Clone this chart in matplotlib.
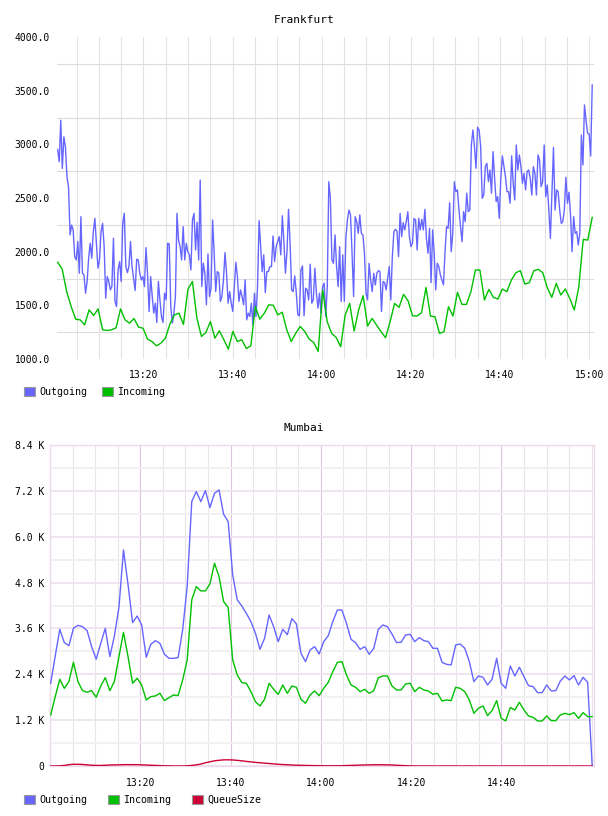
import numpy as np
import matplotlib
matplotlib.use("Agg")
import matplotlib.pyplot as plt
from matplotlib.patches import Patch
from matplotlib.ticker import FixedLocator, FuncFormatter, MultipleLocator

plt.rcParams.update({
    "font.family": "DejaVu Sans Mono",
    "font.size": 7,
})

BLUE = "#6666ff"
GREEN = "#00c000"
RED = "#cc0033"

# Frankfurt, outgoing (20 s samples) and incoming (1 min samples)
fra_out = [
    2952, 2838, 3225, 2776, 3070, 2977, 2698, 2605, 2156, 2248, 2202, 1954, 1923, 2094, 1799,
    2326, 1799, 1784, 1613, 1722, 1939, 2078, 1939, 2186, 2310, 2078, 1846, 1923, 2186, 2264,
    2047, 1567, 1768, 1722, 1644, 1675, 2125, 1536, 1489, 1830, 1908, 1722, 2264, 2357, 1861,
    1805, 1861, 2094, 1861, 1753, 1638, 1929, 1923, 1799, 1737, 1768, 1675, 2038, 1799, 1443,
    1768, 1588, 1427, 1520, 1340, 1722, 1551, 1396, 1340, 1613, 1551, 2078, 2072, 1489, 1334,
    1427, 1582, 2357, 2109, 2047, 1923, 2233, 1923, 2078, 2000, 1970, 1830, 2295, 2357,
    2016, 2273, 1923, 2667, 1675, 1892, 1799, 1505, 1979, 1582, 1660, 2295, 1985, 1628, 1814,
    1799, 1536, 1582, 1737, 1991, 1799, 1520, 1628, 1520, 1443, 1675, 1901, 1768, 1536, 1644,
    1582, 1505, 1737, 1365, 1427, 1396, 1520, 1318, 1613, 1396, 1675, 2289, 2047, 1814, 1970,
    1619, 1814, 1814, 1861, 1861, 2146, 1908, 2047, 2094, 2140, 1970, 2335, 2094, 1799, 2000,
    2394, 2078, 1644, 1628, 1774, 1619, 1411, 1402, 1830, 1867, 1402, 1660, 1644, 1551, 1883,
    1520, 1551, 1846, 1613, 1474, 1613, 1427, 1675, 1706, 1396, 1675, 2652,
    2497, 1923, 1892, 2156, 1861, 1675, 2047, 1536, 1970, 1536, 2125, 2295, 2388, 2342, 1985,
    1582, 2326, 2280, 2171, 2342, 2171, 2156, 1985, 1613, 1551, 1892, 1737, 1628, 1799, 1690,
    1799, 1824, 1814, 1443, 1722, 1712, 1644, 1753, 1861, 1551, 1954, 2186, 2208, 2193, 1954,
    2357, 2140, 2270, 2202, 2280, 2372, 2140, 2047, 2078, 2310, 2295, 2016, 2310, 2202, 2301,
    2202, 2394, 2125, 1985, 2218, 1712, 2202, 1985, 1644, 1892, 1861, 1784, 1737, 1690, 2000,
    2233, 2218, 2456, 2000, 2171,
    2652, 2559, 2575, 2389, 2233, 2093, 2373, 2280, 2544, 2373, 2389, 2994, 3134, 2979, 2777,
    3159, 3134, 2979, 2497, 2528, 2792, 2823, 2652, 2761, 2544, 2932, 2683, 2466, 2513, 2311,
    2683, 2892, 2792, 2699, 2559, 2559, 2451, 2892, 2637, 2482, 2994, 2761, 2901, 2792, 2637,
    2730, 2575, 2746, 2761, 2683, 2528, 2792, 2730, 2528, 2901, 2854, 2606, 2652, 2994, 2513,
    2621, 2389, 2124, 2538, 2972, 2389, 2575, 2559, 2389, 2264, 2280, 2389, 2693, 2451, 2553,
    2342, 2000, 2326, 2171, 2187, 2062, 2171, 3087, 2808, 3367, 3227, 3103, 3097, 2892, 3553,
]
fra_in = [
    1901, 1839, 1628, 1489, 1371, 1365, 1318, 1458, 1405, 1467, 1272, 1266, 1272, 1291, 1467,
    1365, 1334, 1377, 1297, 1287, 1185, 1163, 1123, 1148, 1195, 1328, 1411, 1427, 1322, 1650,
    1722, 1381, 1210, 1247, 1349, 1195, 1263, 1179, 1092, 1257, 1163, 1179, 1098, 1123, 1489,
    1371, 1427, 1505, 1501, 1411, 1436, 1272, 1163, 1241, 1303, 1257, 1185, 1154, 1070, 1644,
    1347, 1239, 1201, 1114, 1409, 1518, 1260, 1456, 1590, 1307, 1378, 1316, 1254, 1198, 1347,
    1518, 1481, 1602, 1543, 1403, 1400, 1431, 1667, 1400, 1394, 1239, 1254, 1487, 1400, 1621,
    1509, 1509, 1627, 1829, 1829, 1549, 1649, 1574, 1559, 1652, 1627, 1736, 1804, 1823, 1698,
    1711, 1823, 1835, 1804, 1664, 1574, 1705, 1596, 1652, 1565, 1456, 1667, 2114, 2108, 2319,
]

# Mumbai, 1 min samples
mum_out = [
    2164, 2879, 3577, 3228, 3149, 3603, 3681, 3646, 3542, 3123, 2792, 3210, 3603, 2862, 3402,
    4150, 5655, 4750, 3751, 3925, 3690, 2844, 3184, 3280, 3210, 2923, 2818, 2818, 2836, 3559,
    4700, 6919, 7181, 6919, 7207, 6762, 7137, 7224, 6588, 6396, 5001, 4347, 4187, 3995, 3777,
    3472, 3053, 3341, 3950, 3646, 3254, 3577, 3437, 3856, 3716, 2949,
    2731, 3036, 3123, 2931, 3254, 3411, 3777, 4082, 4082, 3734, 3315, 3228, 3053, 3123, 2923,
    3080, 3577, 3690, 3646, 3455, 3228, 3237, 3428, 3446, 3254, 3359, 3280, 3254, 3080, 3080,
    2713, 2661, 2644, 3167, 3193, 3080, 2731, 2208, 2356, 2321, 2120, 2269, 2818, 2164, 2033,
    2617, 2356, 2583, 2338, 2103, 2077, 1920, 1920, 2120, 1963, 1972, 2225, 2356, 2251, 2365,
    2120, 2321, 2190, 0,
]
mum_in = [
    1336, 1815, 2269, 2033, 2208, 2713, 2208, 1972, 1929, 1972, 1798, 2094, 2312, 1972, 2208,
    2862, 3498, 2862, 2164, 2295, 2120, 1728, 1815, 1833, 1902, 1711, 1789, 1859, 1841, 2251,
    2774, 4347, 4695, 4582, 4582, 4765, 5306, 4957, 4303, 4150, 2774, 2382, 2181, 2164, 1946,
    1684, 1571, 1746, 2164, 2007, 1876, 2120, 1902, 2094, 2059, 1746,
    1641, 1859, 1963, 1841, 2033, 2190, 2469, 2713, 2731, 2382, 2120, 2059, 1946, 2007, 1902,
    1972, 2312, 2356, 2356, 2094, 1990, 1990, 2147, 2164, 1946, 2059, 1990, 1963, 1876, 1902,
    1702, 1728, 1711, 2059, 2033, 1946, 1728, 1379, 1510, 1571, 1318, 1449, 1711, 1248, 1179,
    1528, 1466, 1667, 1466, 1309, 1274, 1179, 1179, 1309, 1187, 1187, 1336, 1379, 1344, 1397,
    1248, 1397, 1292, 1292,
]
mum_queue = [
    0, 0, 5, 15, 35, 45, 45, 40, 30, 20, 15, 15, 20, 25, 30, 30, 35, 35, 35, 35,
    30, 25, 20, 15, 10, 5, 5, 0, 0, 0, 5, 15, 30, 50, 85, 110, 135, 150, 160, 162,
    158, 148, 135, 120, 108, 95, 85, 75, 65, 55, 45, 38, 32, 26, 22, 18, 15, 12, 10, 8,
    6, 5, 5, 6, 8, 12, 16, 20, 24, 28, 30, 32, 33, 32, 30, 26, 20, 14, 8, 4,
    2, 0, 0, 0, 0, 0, 0, 0, 0, 0, 0, 0, 0, 0, 0, 0, 0, 0, 0, 0,
    0, 0, 0, 0, 0, 0, 0, 0, 0, 0, 0, 0, 0, 0, 0, 0, 0, 0, 0, 0,
]

# minutes after 13:00
fra_t_out = np.linspace(0.75, 120.7, len(fra_out))
fra_t_in = np.linspace(0.75, 120.7, len(fra_in))
mum_t = np.linspace(0.15, 120.1, len(mum_out))


def hhmm(m, pos=None):
    m = int(round(m))
    return f"{13 + m // 60}:{m % 60:02d}"


fig = plt.figure(figsize=(6.08, 8.16), dpi=100)
W, H = 608, 816
ax1 = fig.add_axes([57 / W, 1 - 359 / H, (594 - 57) / W, (359 - 37) / H])
ax2 = fig.add_axes([50 / W, 1 - 766 / H, (594 - 50) / W, (766 - 445) / H])

# --- Frankfurt ---
ax1.plot(fra_t_out, fra_out, color=BLUE, lw=1.0, zorder=3)
ax1.plot(fra_t_in, fra_in, color=GREEN, lw=1.0, zorder=4)
ax1.set_xlim(0.6, 121.1)
ax1.set_ylim(1000, 4000)
ax1.set_yticks(np.arange(1000, 4001, 500))
ax1.yaxis.set_major_formatter(FuncFormatter(lambda v, p: f"{v:.1f}"))
ax1.yaxis.set_minor_locator(FixedLocator(np.arange(1250, 4000, 500)))
ax1.set_xticks(np.arange(20, 121, 20))
ax1.xaxis.set_major_formatter(FuncFormatter(hhmm))
ax1.xaxis.set_minor_locator(MultipleLocator(5))
ax1.grid(True, which="both", axis="x", color="#e3e3e3", lw=0.8)
ax1.grid(True, which="minor", axis="y", color="#dcdcdc", lw=0.8)
ax1.set_axisbelow(True)
for s in ax1.spines.values():
    s.set_visible(False)
ax1.tick_params(which="both", length=0)
ax1.tick_params(axis="y", pad=5)
ax1.tick_params(axis="x", pad=8)
fig.text(0.5, 1 - 20 / H, "Frankfurt", ha="center", va="center", fontsize=8)

# --- Mumbai ---
ax2.plot(mum_t, mum_out, color=BLUE, lw=1.0, zorder=3)
ax2.plot(mum_t, mum_in, color=GREEN, lw=1.0, zorder=4)
ax2.plot(mum_t, mum_queue, color=RED, lw=1.0, zorder=5)
ax2.set_xlim(0, 120.5)
ax2.set_ylim(0, 8400)
ax2.set_yticks(np.arange(0, 8401, 1200))
ax2.yaxis.set_major_formatter(
    FuncFormatter(lambda v, p: "0" if v == 0 else f"{v / 1000:.1f} K"))
ax2.yaxis.set_minor_locator(FixedLocator(np.arange(600, 8400, 1200)))
ax2.set_xticks(np.arange(20, 101, 20))
ax2.xaxis.set_major_formatter(FuncFormatter(hhmm))
ax2.xaxis.set_minor_locator(MultipleLocator(5))
ax2.grid(True, which="major", axis="x", color="#dcc6dc", lw=0.8)
ax2.grid(True, which="minor", axis="x", color="#e6e6e6", lw=0.8)
ax2.grid(True, which="major", axis="y", color="#f0e2f0", lw=1.3)
ax2.grid(True, which="minor", axis="y", color="#f0f0f0", lw=1.3)
ax2.set_axisbelow(True)
for s in ax2.spines.values():
    s.set_color("#ecdaec")
    s.set_linewidth(1.0)
ax2.tick_params(which="both", length=0)
ax2.tick_params(axis="y", pad=4)
ax2.tick_params(axis="x", pad=9)
fig.text(0.5, 1 - 428 / H, "Mumbai", ha="center", va="center", fontsize=8)


def legend(handles, y, spacing):
    fig.legend(handles=handles, loc="center left",
               bbox_to_anchor=(24 / W, 1 - y / H), ncol=len(handles),
               frameon=False, borderpad=0, borderaxespad=0,
               handlelength=1.05, handleheight=1.0, handletextpad=0.45,
               columnspacing=spacing, fontsize=7.2)


def box(c, name):
    return Patch(facecolor=c, edgecolor="#999999", lw=0.8, label=name)


legend([box(BLUE, "Outgoing"), box(GREEN, "Incoming")], 392, 1.5)
legend([box(BLUE, "Outgoing"), box(GREEN, "Incoming"), box(RED, "QueueSize")], 800, 2.1)

fig.savefig("out.png", dpi=100)
